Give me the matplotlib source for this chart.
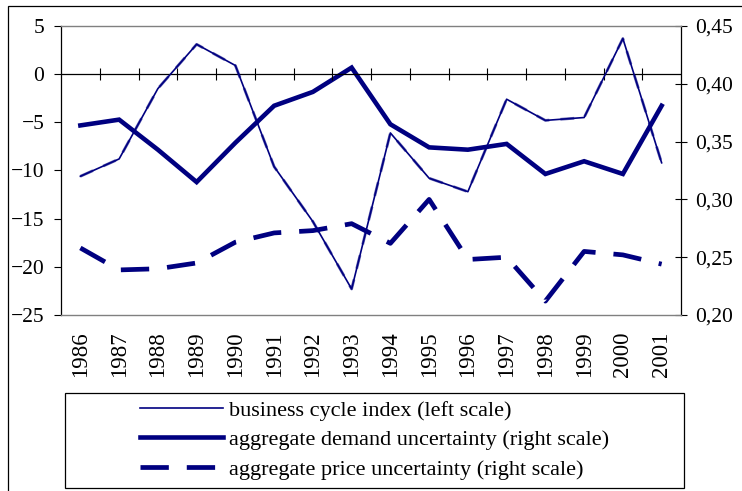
import matplotlib
matplotlib.use('Agg')
import matplotlib.pyplot as plt
from matplotlib.patches import Rectangle
from matplotlib.lines import Line2D
from matplotlib.ticker import FuncFormatter, FixedLocator
import numpy as np

plt.rcParams['font.family'] = ['Liberation Serif', 'DejaVu Serif']

years = ['1986', '1987', '1988', '1989', '1990', '1991', '1992', '1993',
         '1994', '1995', '1996', '1997', '1998', '1999', '2000', '2001']
business_cycle = [-10.6, -8.8, -1.5, 3.1, 0.9, -9.6, -15.3, -22.3,
                  -6.1, -10.8, -12.2, -2.6, -4.8, -4.5, 3.7, -9.2]
demand_uncertainty = [0.364, 0.369, 0.343, 0.315, 0.349, 0.381, 0.393, 0.414,
                      0.365, 0.345, 0.343, 0.348, 0.322, 0.333, 0.322, 0.381]
price_uncertainty = [0.258, 0.239, 0.240, 0.245, 0.263, 0.271, 0.273, 0.279,
                     0.262, 0.300, 0.248, 0.250, 0.212, 0.255, 0.252, 0.244]
left_ticks = [-25, -20, -15, -10, -5, 0, 5]
right_ticks = [0.20, 0.25, 0.30, 0.35, 0.40, 0.45]

labels = ['business cycle index (left scale)',
          'aggregate demand uncertainty (right scale)',
          'aggregate price uncertainty (right scale)']

NAVY = '#000080'
W, H = 742, 491
fig = plt.figure(figsize=(W / 100, H / 100), dpi=100)

def fx(px):
    return px / W

def fy(py):
    return 1 - py / H

ax = fig.add_axes([fx(61), fy(315), fx(681) - fx(61), fy(26) - fy(315)])
tw = ax.twinx()

x = np.arange(len(years))

# right-scale series
tw.plot(x, price_uncertainty, color=NAVY, lw=3.4, dashes=(6, 3.8),
        solid_capstyle='butt', dash_capstyle='butt')
tw.plot(x, demand_uncertainty, color=NAVY, lw=3.3, solid_joinstyle='miter')

# left-scale series
ax.plot(x, business_cycle, color=NAVY, lw=1.2)
ax.plot(x, business_cycle, color=NAVY, lw=2.0, dashes=(5, 4), alpha=0.6)
ax.axhline(0, color='black', lw=0.9, zorder=1)

ax.set_zorder(tw.get_zorder() + 1)
ax.patch.set_visible(False)

ax.set_xlim(-0.5, len(years) - 0.5)
ax.set_ylim(-25, 5)
tw.set_ylim(0.20, 0.45)

# left axis
ax.set_yticks(left_ticks)
ax.tick_params(axis='y', direction='out', length=5, width=0.8, pad=7,
               labelsize=15.5)
ax.set_xticks(x)
ax.set_xticklabels(years, rotation=90, fontsize=16.5)
ax.tick_params(axis='x', length=0, pad=12)

for s in ['top', 'bottom']:
    ax.spines[s].set_color('#808080')
    ax.spines[s].set_linewidth(1.0)
ax.spines['left'].set_color('black')
ax.spines['left'].set_linewidth(0.9)
ax.spines['right'].set_visible(False)

# right axis
tw.yaxis.set_major_locator(FixedLocator(right_ticks))
tw.yaxis.set_major_formatter(FuncFormatter(lambda v, p: f'{v:.2f}'.replace('.', ',')))
tw.tick_params(axis='y', direction='inout', length=9, width=0.8, pad=6,
               labelsize=15.5)
for s in ['top', 'bottom', 'left']:
    tw.spines[s].set_visible(False)
tw.spines['right'].set_color('black')
tw.spines['right'].set_linewidth(0.9)

# category boundary ticks on the zero line
sec = ax.secondary_xaxis(25 / 30)
sec.set_xticks(np.arange(0.5, len(years) - 0.5, 1.0))
sec.tick_params(direction='inout', length=9, width=0.8,
                labeltop=False, labelbottom=False)
sec.spines['top'].set_visible(False)
sec.spines['bottom'].set_visible(False)

# legend
handles = [Line2D([], [], color=NAVY, lw=1.2),
           Line2D([], [], color=NAVY, lw=3.3),
           Line2D([], [], color=NAVY, lw=3.4, dashes=(6, 3.8))]
fig.legend(handles, labels, loc='upper left',
           bbox_to_anchor=(fx(129), fy(389)), frameon=False, borderpad=0,
           handlelength=3.75, handletextpad=0.27, labelspacing=0.40,
           fontsize=16)
fig.patches.append(Rectangle((fx(65), fy(488)), fx(684) - fx(65), fy(392.5) - fy(488),
                             transform=fig.transFigure, fill=False,
                             edgecolor='black', lw=0.9))
# outer frame
fig.patches.append(Rectangle((fx(8), -0.1), 1.2, fy(6) + 0.1,
                             transform=fig.transFigure, fill=False,
                             edgecolor='black', lw=0.9, clip_on=False))

fig.savefig('out.png', dpi=100)
